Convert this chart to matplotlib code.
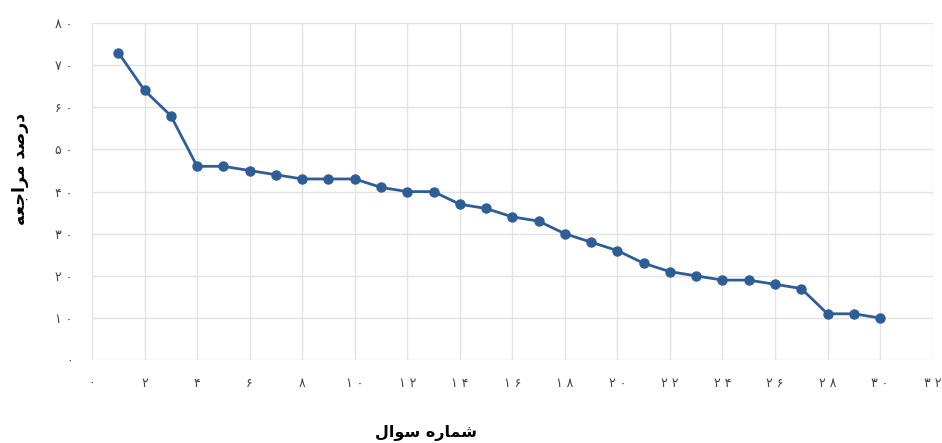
import matplotlib
matplotlib.use("Agg")
import matplotlib.pyplot as plt

# question number vs. percentage of referrals
questions = list(range(1, 31))
percent = [73, 64, 58, 46, 46, 45, 44, 43, 43, 43,
           41, 40, 40, 37, 36, 34, 33, 30, 28, 26,
           23, 21, 20, 19, 19, 18, 17, 11, 11, 10]

x_ticks = list(range(0, 33, 2))
y_ticks = list(range(0, 81, 10))

# Persian digits
fa_digits = str.maketrans("0123456789", "۰۱۲۳۴۵۶۷۸۹")

# pre-shaped (presentation forms), visual order
x_label = "\uFEDD\uFE8D\uFEEE\uFEB3 \uFEE9\uFEAD\uFE8E\uFEE4\uFEB7"   # شماره سوال
y_label = "\uFEEA\uFECC\uFE9F\uFE8D\uFEAE\uFEE3 \uFEAA\uFEBB\uFEAD\uFEA9"  # درصد مراجعه

plt.rcParams['font.family'] = ['DejaVu Sans']

fig = plt.figure(figsize=(9.42, 4.43), dpi=100)
ax = fig.add_axes([0.0977, 0.187, 0.8923, 0.761])

ax.plot(questions, percent, color="#2f5e97", linewidth=2,
        marker="o", markersize=6.5, zorder=3)

ax.set_xlim(0, 32)
ax.set_ylim(0, 80)
ax.set_xticks(x_ticks)
ax.set_yticks(y_ticks)
ax.set_xticklabels([" ".join(str(v).translate(fa_digits)) for v in x_ticks])
ax.set_yticklabels([" ".join(str(v).translate(fa_digits)) for v in y_ticks])
ax.tick_params(axis="both", length=0, labelsize=9, colors="#444444")
ax.tick_params(axis="x", pad=12)
ax.tick_params(axis="y", pad=14)

ax.grid(True, color="#e3e3e3", linewidth=1)
for s in ax.spines.values():
    s.set_visible(False)

fig.text(0.452, 0.005, x_label, ha="center", va="bottom",
         fontsize=11.5, fontweight="bold")
fig.text(0.021, 0.618, y_label, ha="center", va="center", rotation=90,
         fontsize=12.5, fontweight="bold")

fig.savefig("out.png", dpi=100)
